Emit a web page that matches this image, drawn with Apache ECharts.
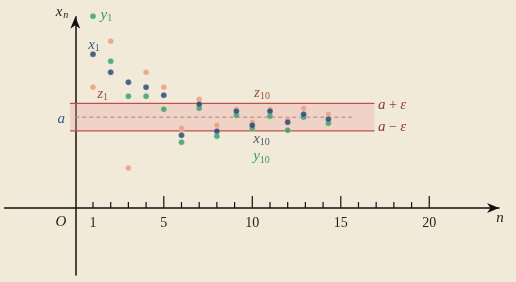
<!DOCTYPE html>
<html><head><meta charset="utf-8">
<script src="https://cdn.jsdelivr.net/npm/echarts@6/dist/echarts.min.js"></script>
<style>html,body{margin:0;padding:0;background:#f2ead8}#c{width:516px;height:282px}</style>
</head><body><div id="c"></div>
<script>
// ---- data ----
const nVals = [1, 2, 3, 4, 5, 6, 7, 8, 9.1, 10, 11, 12, 12.9, 14.3];
const xSeq  = [15.4, 13.6, 12.6, 12.1, 11.3, 7.3, 10.4, 7.7, 9.7, 8.3, 9.7, 8.6, 9.4, 8.9];
const ySeq  = [19.2, 14.7, 11.2, 11.2, 9.9, 6.6, 10.0, 7.2, 9.3, 8.0, 9.2, 7.8, 9.1, 8.5];
const zSeq  = [12.1, 16.7, 4.0, 13.6, 12.1, 8.0, 10.9, 8.3, 9.9, 8.6, 9.9, 8.9, 10.0, 9.4];
const limitA = 9.1;
const epsilon = 1.38;
const bandRange = [-0.3, 16.9];
const dashRange = [0, 15.8];
const tickValues = [1,2,3,4,5,6,7,8,9,10,11,12,13,14,15,16,17,18,19,20];
const majorTicks = [5, 10, 15, 20];
const tickLabels = [1, 5, 10, 15, 20];
const xRange = [-4, 23.94];
const yRange = [-6.7, 19.16];

// ---- styling ----
const C_GREEN = '#2f9e5f', C_BLUE = '#1e3f6d', C_ORANGE = '#e99a7c';
const C_RED = '#c24f4d', C_BAND = 'rgba(235,165,160,0.33)';
const SERIF = '"Liberation Serif","DejaVu Serif",serif';

// annotation labels (data coordinates)
const annotations = [
  {m:'y', s:'1', x:1.43, y:19.3, c:'#3a9a5e', al:'left'},
  {m:'x', s:'1', x:0.73, y:16.3, c:'#3d5a80', al:'left'},
  {m:'z', s:'1', x:1.24, y:11.4, c:'#a0523f', al:'left'},
  {m:'z', s:'10', x:10.1, y:11.5, c:'#a0523f', al:'left'},
  {m:'x', s:'10', x:10.05, y:6.93, c:'#4a5a6e', al:'left'},
  {m:'y', s:'10', x:10.05, y:5.16, c:'#3a9a5e', al:'left'},
  {m:'x', s:'n', x:-0.75, y:19.6, c:'#222', al:'center', si:true},
  {m:'a', s:'', x:-0.8, y:8.93, c:'#3d5a80', al:'center'},
  {m:'O', s:'', x:-0.81, y:-1.37, c:'#222', al:'center'},
  {m:'n', s:'', x:24.0, y:-0.97, c:'#222', al:'center'},
  {pm:'+', x:17.1, y:10.28, c:'#8b3a3a', al:'left'},
  {pm:'−', x:17.1, y:8.13, c:'#8b3a3a', al:'left'}
];

const chart = echarts.init(document.getElementById('c'), null, {renderer:'canvas'});
const pts = arr => nVals.map((v, i) => [v, arr[i]]);

const option = {
  backgroundColor: '#f2ead8',
  animation: false,
  grid: {left: 4.5, right: 17, top: 16.7, bottom: 7, containLabel: false, outerBoundsMode: 'none'},
  xAxis: {
    type: 'value', min: xRange[0], max: xRange[1], interval: 1,
    splitLine: {show: false},
    axisTick: {show: false},
    axisLabel: {show: false},
    axisLine: {onZero: true, lineStyle: {color: '#111', width: 1.5}}
  },
  yAxis: {
    type: 'value', min: yRange[0], max: yRange[1],
    splitLine: {show: false},
    axisTick: {show: false},
    axisLabel: {show: false},
    axisLine: {onZero: true, lineStyle: {color: '#111', width: 1.5}}
  },
  series: [
    {
      type: 'custom', z: 1, silent: true,
      data: [[limitA, epsilon]],
      renderItem: (params, api) => {
        const av = api.value(0), e = api.value(1);
        const tl = api.coord([bandRange[0], av + e]);
        const br = api.coord([bandRange[1], av - e]);
        const d0 = api.coord([dashRange[0], av]);
        const d1 = api.coord([dashRange[1], av]);
        return {type: 'group', children: [
          {type: 'rect', shape: {x: tl[0], y: tl[1], width: br[0] - tl[0], height: br[1] - tl[1]}, style: {fill: C_BAND}},
          {type: 'line', shape: {x1: tl[0], y1: tl[1], x2: br[0], y2: tl[1]}, style: {stroke: C_RED, lineWidth: 1.3}},
          {type: 'line', shape: {x1: tl[0], y1: br[1], x2: br[0], y2: br[1]}, style: {stroke: C_RED, lineWidth: 1.3}},
          {type: 'line', shape: {x1: d0[0], y1: d0[1], x2: d1[0], y2: d1[1]}, style: {stroke: '#b08080', lineWidth: 1, lineDash: [4, 3]}}
        ]};
      }
    },
    {
      // axis ticks and tick labels
      type: 'custom', z: 3, silent: true, clip: false,
      data: tickValues.map(v => [v]),
      renderItem: (params, api) => {
        const v = api.value(0);
        const p = api.coord([v, 0]);
        const len = majorTicks.includes(v) ? 12 : 6;
        const children = [{type: 'line', shape: {x1: p[0], y1: p[1], x2: p[0], y2: p[1] - len}, style: {stroke: '#111', lineWidth: 1.2}}];
        if (tickLabels.includes(v)) {
          children.push({type: 'text', x: p[0], y: p[1] + 15, style: {text: String(v), fontFamily: SERIF, fontSize: 14, fill: '#222', align: 'center', verticalAlign: 'middle'}});
        }
        return {type: 'group', children: children};
      }
    },
    {
      // arrow heads at the axis ends
      type: 'custom', z: 6, silent: true, clip: false,
      data: [[xRange[1], 0, 0], [0, yRange[1], 1]],
      renderItem: (params, api) => {
        const p = api.coord([api.value(0), api.value(1)]);
        const vertical = api.value(2) === 1;
        const L = 12, W = 5, N = 8.5;
        const raw = [[0, 0], [-L, -W], [-N, 0], [-L, W]];
        const ptsA = raw.map(q => vertical ? [p[0] + q[1], p[1] - q[0]] : [p[0] + q[0], p[1] + q[1]]);
        return {type: 'polygon', shape: {points: ptsA}, style: {fill: '#111'}};
      }
    },
    {type: 'scatter', name: 'z', data: pts(zSeq), symbolSize: 6, clip: false, z: 4,
     itemStyle: {color: C_ORANGE, borderColor: 'rgba(255,255,255,0.6)', borderWidth: 0.6}},
    {type: 'scatter', name: 'y', data: pts(ySeq), symbolSize: 6, clip: false, z: 4,
     itemStyle: {color: C_GREEN, borderColor: 'rgba(255,255,255,0.6)', borderWidth: 0.6}},
    {type: 'scatter', name: 'x', data: pts(xSeq), symbolSize: 6, clip: false, z: 4,
     itemStyle: {color: C_BLUE, borderColor: 'rgba(255,255,255,0.6)', borderWidth: 0.6}},
    {
      type: 'custom', z: 5, silent: true, clip: false,
      data: annotations.map((a, i) => [a.x, a.y, i]),
      renderItem: (params, api) => {
        const an = annotations[api.value(2)];
        const p = api.coord([an.x, an.y]);
        let text;
        if (an.pm) {
          text = '{i|a}{r| ' + an.pm + ' }{i|ε}';
        } else {
          text = '{i|' + an.m + '}' + (an.s ? '{' + (an.si ? 'si' : 's') + '|' + an.s + '}' : '');
        }
        const rich = {
          i: {fontFamily: SERIF, fontStyle: 'italic', fontSize: 15, fill: an.c, color: an.c, lineHeight: 18},
          r: {fontFamily: SERIF, fontSize: 14, fill: an.c, color: an.c, lineHeight: 18},
          s: {fontFamily: SERIF, fontSize: 10, fill: an.c, color: an.c, padding: [7, 0, 0, 0], lineHeight: 18},
          si: {fontFamily: SERIF, fontStyle: 'italic', fontSize: 10, fill: an.c, color: an.c, padding: [7, 0, 0, 1], lineHeight: 18}
        };
        return {type: 'text', x: p[0], y: p[1], style: {text: text, rich: rich, align: an.al, verticalAlign: 'middle', fill: an.c}};
      }
    }
  ]
};
chart.setOption(option);
</script></body></html>
